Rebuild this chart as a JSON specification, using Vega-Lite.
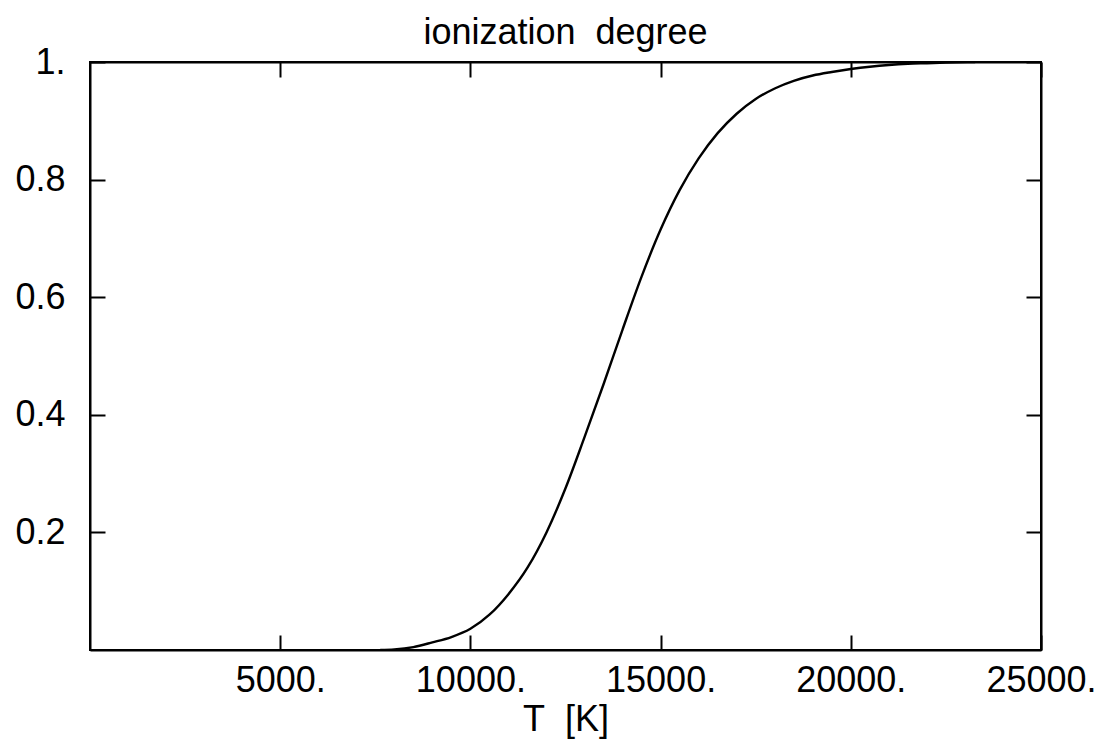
{
  "$schema": "https://vega.github.io/schema/vega-lite/v6.json",
  "width": 951,
  "height": 588,
  "autosize": {"type": "none"},
  "padding": {"left": 90, "top": 62, "right": 62, "bottom": 96},
  "background": "white",
  "config": {
    "font": "Liberation Sans",
    "view": {"stroke": "black", "strokeWidth": 2},
    "axis": {
      "domainColor": "black",
      "domainWidth": 2,
      "tickColor": "black",
      "tickWidth": 2,
      "tickSize": -15,
      "grid": false,
      "labelFont": "Liberation Sans",
      "labelFontSize": 36,
      "labelColor": "black",
      "titleFont": "Liberation Sans",
      "titleFontSize": 36,
      "titleFontWeight": "normal",
      "titleColor": "black"
    }
  },
  "title": {
    "text": "ionization\u00a0 degree",
    "fontSize": 36,
    "fontWeight": "normal",
    "font": "Liberation Sans",
    "color": "black",
    "offset": -8
  },
  "data": {
    "values": [
      {"T": 7630, "v": 0.0},
      {"T": 8000, "v": 0.001},
      {"T": 8500, "v": 0.005},
      {"T": 9000, "v": 0.013},
      {"T": 9500, "v": 0.022},
      {"T": 10000, "v": 0.036},
      {"T": 10500, "v": 0.06},
      {"T": 11000, "v": 0.095},
      {"T": 11500, "v": 0.14},
      {"T": 12000, "v": 0.2},
      {"T": 12500, "v": 0.275},
      {"T": 13000, "v": 0.362},
      {"T": 13500, "v": 0.452},
      {"T": 14000, "v": 0.545},
      {"T": 14500, "v": 0.635},
      {"T": 15000, "v": 0.715},
      {"T": 15500, "v": 0.782},
      {"T": 16000, "v": 0.836},
      {"T": 16500, "v": 0.879},
      {"T": 17000, "v": 0.912},
      {"T": 17500, "v": 0.937},
      {"T": 18000, "v": 0.955},
      {"T": 18500, "v": 0.968},
      {"T": 19000, "v": 0.977},
      {"T": 19500, "v": 0.983},
      {"T": 20000, "v": 0.988},
      {"T": 20500, "v": 0.992},
      {"T": 21000, "v": 0.995},
      {"T": 21500, "v": 0.997},
      {"T": 22000, "v": 0.998},
      {"T": 22500, "v": 0.999},
      {"T": 23270, "v": 1.0}
    ]
  },
  "layer": [
    {
      "mark": {"type": "line", "color": "black", "strokeWidth": 2.4, "interpolate": "monotone", "clip": true},
      "encoding": {
        "x": {
          "field": "T",
          "type": "quantitative",
          "scale": {"domain": [0, 25000], "nice": false, "zero": false},
          "axis": {
            "orient": "bottom",
            "title": "T\u00a0 [K]",
            "values": [5000, 10000, 15000, 20000, 25000],
            "labelExpr": "format(datum.value, 'd') + '.'",
            "labelPadding": 28,
            "labelFlush": false,
            "labelOverlap": false,
            "titlePadding": 4
          }
        },
        "y": {
          "field": "v",
          "type": "quantitative",
          "scale": {"domain": [0, 1], "nice": false},
          "axis": {
            "orient": "left",
            "title": null,
            "values": [0.2, 0.4, 0.6, 0.8, 1],
            "labelExpr": "datum.value == 1 ? '1.' : format(datum.value, '.1f')",
            "labelPadding": 40,
            "labelFlush": false,
            "labelOverlap": false
          }
        }
      }
    },
    {
      "mark": {"type": "line", "opacity": 0},
      "encoding": {
        "x": {
          "field": "T",
          "type": "quantitative",
          "scale": {"domain": [0, 25000], "nice": false, "zero": false},
          "axis": {
            "orient": "top",
            "title": null,
            "labels": false,
            "values": [5000, 10000, 15000, 20000, 25000]
          }
        },
        "y": {
          "field": "v",
          "type": "quantitative",
          "scale": {"domain": [0, 1], "nice": false},
          "axis": {
            "orient": "right",
            "title": null,
            "labels": false,
            "values": [0.2, 0.4, 0.6, 0.8, 1]
          }
        }
      }
    }
  ],
  "resolve": {"axis": {"x": "independent", "y": "independent"}}
}
